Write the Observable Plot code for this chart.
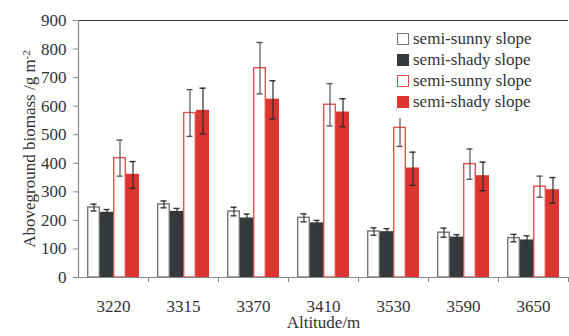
<!DOCTYPE html>
<html>
<head>
<meta charset="utf-8">
<script src="https://cdn.jsdelivr.net/npm/d3@7"></script>
<script src="https://cdn.jsdelivr.net/npm/@observablehq/plot@0.6"></script>
<style>
  html, body { margin: 0; padding: 0; background: #fff; }
  #wrap { position: relative; width: 569px; height: 336px; }
  #legend { position: absolute; left: 397px; top: 28px; background: #fff;
    font-family: 'Liberation Serif', serif; font-size: 17px; color: #333;
    padding: 0 4px 6px 0; }
  #legend .row { display: flex; align-items: center; height: 21px; }
  #legend .sw { width: 12px; height: 12px; box-sizing: border-box; margin-right: 4px; }
</style>
</head>
<body>
<div id="wrap"><div id="legend"></div></div>
<script>
const altitudes = ["3220", "3315", "3370", "3410", "3530", "3590", "3650"];
const seriesKeys = ["sunny1", "shady1", "sunny2", "shady2"];
const seriesLabels = ["semi-sunny slope", "semi-shady slope", "semi-sunny slope", "semi-shady slope"];

const sunny1 = [245, 256, 231, 209, 161, 157, 138];
const sunny1Err = [12, 12, 15, 14, 13, 16, 13];
const shady1 = [226, 229, 206, 189, 158, 139, 129];
const shady1Err = [12, 13, 16, 11, 13, 11, 17];
const sunny2 = [418, 576, 733, 605, 524, 397, 318];
const sunny2Err = [63, 82, 90, 74, 65, 53, 37];
const shady2 = [359, 583, 622, 577, 381, 354, 305];
const shady2Err = [47, 80, 67, 49, 58, 50, 45];

const yTicks = [0, 100, 200, 300, 400, 500, 600, 700, 800, 900];
const yLabelMain = "Aboveground biomass /g m";
const yLabelSup = "-2";

const fills = {sunny1: "#ffffff", shady1: "#353a3d", sunny2: "#ffffff", shady2: "#dc352f"};
const strokes = {sunny1: "#777777", shady1: "#353a3d", sunny2: "#e45050", shady2: "#dc352f"};
const errColors = {sunny1: "#333333", shady1: "#333333", sunny2: "#555555", shady2: "#2a2a2a"};

const valuesBy = {sunny1, shady1, sunny2, shady2};
const errBy = {sunny1: sunny1Err, shady1: shady1Err, sunny2: sunny2Err, shady2: shady2Err};
const rows = [];
altitudes.forEach((a, i) => {
  seriesKeys.forEach(s => rows.push({alt: a, s, v: valuesBy[s][i], e: errBy[s][i]}));
});

const W = 569, H = 336, ML = 78, MR = 1, MT = 20, MB = 59;
const step = (W - ML - MR) / altitudes.length;
const font = "'Liberation Serif', serif";

const chart = Plot.plot({
  width: W, height: H,
  marginLeft: ML, marginRight: MR, marginTop: MT, marginBottom: MB,
  style: {fontFamily: font, fontSize: "17px", color: "#333", background: "#fff", overflow: "visible"},
  fx: {domain: altitudes, padding: 0, axis: null},
  x: {domain: seriesKeys, paddingInner: 0, paddingOuter: 0.69, axis: null},
  y: {domain: [0, 900], axis: null},
  marks: [
    Plot.barY(rows, {fx: "alt", x: "s", y: "v", fill: d => fills[d.s], stroke: d => strokes[d.s],
      strokeWidth: 1.4, insetLeft: 0.7, insetRight: 0.7}),
    Plot.ruleX(rows, {fx: "alt", x: "s", y1: d => d.v - d.e, y2: d => d.v + d.e, stroke: d => errColors[d.s], strokeWidth: 1.2}),
    Plot.tickY(rows, {fx: "alt", x: "s", y: d => d.v + d.e, stroke: d => errColors[d.s], strokeWidth: 1.4, insetLeft: 3.5, insetRight: 3.5}),
    Plot.tickY(rows, {fx: "alt", x: "s", y: d => d.v - d.e, stroke: d => errColors[d.s], strokeWidth: 1.4, insetLeft: 3.5, insetRight: 3.5}),
    Plot.ruleY([0], {stroke: "#888", strokeWidth: 1.2}),
    Plot.ruleY([900], {stroke: "#333", strokeWidth: 1.2}),
    Plot.frame({anchor: "left", facetAnchor: "left", stroke: "#888", strokeWidth: 1.2}),
    Plot.axisY({ticks: yTicks, tickSize: 5, tickPadding: 7, stroke: "#888", fill: "#333",
      label: yLabelMain, labelAnchor: "center", labelArrow: "none", labelOffset: 56}),
    Plot.axisFx({anchor: "bottom", tickSize: 0, tickPadding: 22, fill: "#333", label: "Altitude/m", labelAnchor: "center", labelArrow: "none", labelOffset: 50}),
    Plot.axisFx({anchor: "bottom", tickSize: 5, tickFormat: () => "", dx: step / 2, stroke: "#888", label: null})
  ]
});
document.getElementById("wrap").prepend(chart);

// add the superscript unit exponent to the y-axis label
d3.select(chart).selectAll("text").filter(function () { return this.textContent === yLabelMain; })
  .each(function () {
    const t = d3.select(this);
    const tt = t.select("tspan").empty() ? t : t.select("tspan");
    tt.append("tspan").attr("dy", "-0.45em").attr("font-size", "11px").text(yLabelSup);
  });

const legend = document.getElementById("legend");
legend.style.fontFamily = font;
seriesKeys.forEach((s, i) => {
  const row = document.createElement("div");
  row.className = "row";
  const sw = document.createElement("div");
  sw.className = "sw";
  sw.style.background = fills[s];
  sw.style.border = (s === "sunny1" ? "1px" : "1.5px") + " solid " + strokes[s];
  const t = document.createElement("span");
  t.textContent = seriesLabels[i];
  row.append(sw, t);
  legend.append(row);
});
</script>
</body>
</html>
